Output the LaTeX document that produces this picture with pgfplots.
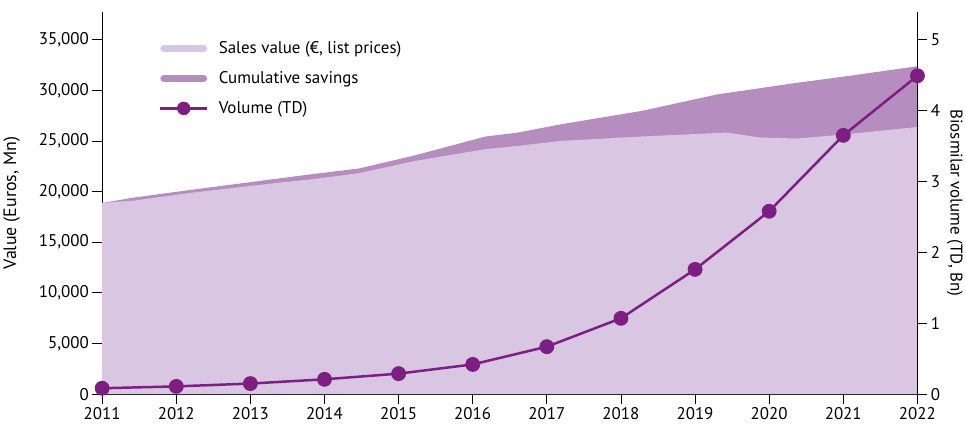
\documentclass[border=0pt]{standalone}
\usepackage{pgfplots}
\pgfplotsset{compat=1.18}
\usepackage{fontspec}
\setmainfont{PT Sans}
\definecolor{salesc}{RGB}{217,198,226}
\definecolor{savc}{RGB}{182,141,191}
\definecolor{linec}{RGB}{125,30,130}
\pgfplotstableread{
x y
2011.00 18876
2011.42 19102
2012.18 19859
2013.22 20743
2013.66 21088
2013.93 21304
2014.47 21825
2015.23 23034
2016.17 24184
2016.61 24509
2017.19 25000
2018.27 25433
2019.43 25826
2019.88 25334
2020.38 25236
2021.05 25659
2022.00 26376
}\sales
\pgfplotstableread{
x y
2011.00 18876
2011.42 19397
2012.18 20154
2013.22 21137
2013.66 21560
2014.47 22287
2015.23 23594
2016.17 25433
2016.61 25826
2017.19 26642
2018.27 27949
2019.30 29591
2020.38 30742
2021.05 31391
2022.00 32374
}\upper
\pgfplotstableread{
x y
2011 0.084
2012 0.11
2013 0.15
2014 0.21
2015 0.29
2016 0.42
2017 0.67
2018 1.07
2019 1.76
2020 2.58
2021 3.65
2022 4.49
}\volume
\newcommand{\fs}{\fontsize{17bp}{20bp}\selectfont}
\begin{document}
\begin{tikzpicture}
\begin{axis}[
 name=ax1,
 scale only axis, width=819bp, height=384bp,
 xmin=2011, xmax=2022, ymin=0, ymax=37730,
 axis x line*=bottom, axis y line*=left,
 xtick={2011,...,2022},
 ytick={0,5000,...,35000},
 scaled y ticks=false,
 x tick label style={/pgf/number format/1000 sep={}},
 y tick label style={/pgf/number format/1000 sep={,}},
 /pgf/number format/assume math mode=true,
 tick align=outside, major tick length=10bp,
 tick style={black, line width=0.8pt},
 axis line style={black, line width=1pt, -},
 tick label style={font=\fs},
 ylabel={Value (Euros, Mn)}, ylabel style={font=\fontsize{18bp}{21bp}\selectfont},
 ylabel shift=12bp,
 legend style={draw=none, fill=none, at={(0.066,0.933)}, anchor=north west, font=\fs, row sep=12.5bp},
 legend cell align=left,
 clip=true,
]
\addlegendimage{legend image code/.code={\draw[salesc, line width=7bp, line cap=round](0bp,0bp)--(40bp,0bp);\path (53bp,0bp);}}
\addlegendentry{Sales value (€, list prices)}
\addlegendimage{legend image code/.code={\draw[savc, line width=7bp, line cap=round](0bp,0bp)--(40bp,0bp);\path (53bp,0bp);}}
\addlegendentry{Cumulative savings}
\addlegendimage{legend image code/.code={\draw[linec, line width=2.5bp](-3.5bp,0bp)--(43.5bp,0bp);\fill[linec](20bp,0bp) circle (6.5bp);\path (53bp,0bp);}}
\addlegendentry{Volume (TD)}
\addplot[draw=none, fill=savc, forget plot] table[x=x,y=y]{\upper} \closedcycle;
\addplot[draw=none, fill=salesc, forget plot] table[x=x,y=y]{\sales} \closedcycle;
\end{axis}
\begin{axis}[
 scale only axis, width=819bp, height=384bp,
 xmin=2011, xmax=2022, ymin=0, ymax=5.39,
 axis x line=none, axis y line*=right,
 ytick={0,...,5},
 /pgf/number format/assume math mode=true,
 tick align=outside, major tick length=10bp,
 tick style={black, line width=0.8pt},
 axis line style={black, line width=1pt, -},
 tick label style={font=\fs},
 ylabel={Biosmilar volume (TD, Bn)}, ylabel style={font=\fs, rotate=180},
 clip=false,
]
\addplot[linec, line width=2.5bp, mark=*, mark size=6.2bp, mark options={fill=linec, draw=linec}] table[x=x,y=y]{\volume};
\end{axis}
\path ([yshift=12bp]ax1.north);
\end{tikzpicture}
\end{document}
